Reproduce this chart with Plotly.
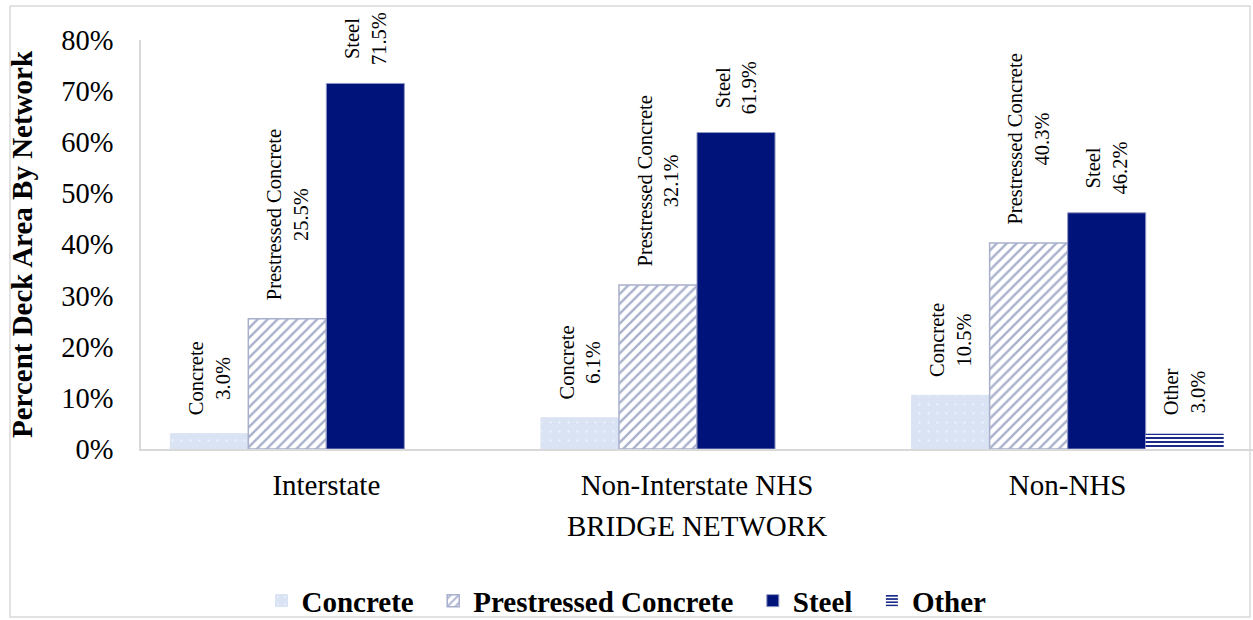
import plotly.graph_objects as go

# Share of bridge deck area by superstructure material, per network
networks = ["Interstate", "Non-Interstate NHS", "Non-NHS"]
concrete = [3.0, 6.1, 10.5]
prestressed = [25.5, 32.1, 40.3]
steel = [71.5, 61.9, 46.2]
other = [None, None, 3.0]

y_ticks = [0, 10, 20, 30, 40, 50, 60, 70, 80]
y_ticktext = [f"{v}%" for v in y_ticks]

SERIF = "Times New Roman, Liberation Serif, serif"
W, H = 1253, 620
ML, MR, MT, MB = 141, 0, 40, 171

# leading non-breaking spaces lift the rotated labels clear of the bar tops
LIFT = "&nbsp;" * 3
# extra room between legend entries
GAP = "&nbsp;" * 2


def labels(name, vals):
    return [f"{LIFT}{name}<br>{LIFT}{v:.1f}%" if v is not None else "" for v in vals]


def legend_name(name, last=False):
    return f"<b>{name}</b>" + ("" if last else GAP)


bar_common = dict(
    textposition="outside",
    textangle=-90,
    cliponaxis=False,
    constraintext="none",
    textfont=dict(family=SERIF, size=20.5, color="#000000"),
)

fig = go.Figure()
fig.add_trace(go.Bar(
    name=legend_name("Concrete"), x=networks, y=concrete,
    text=labels("Concrete", concrete),
    marker=dict(color="#dae3f3", line=dict(color="#dae3f3", width=1),
                pattern=dict(shape=".", fgcolor="#eef2fa", bgcolor="#dae3f3",
                             size=9, solidity=0.05, fillmode="replace")),
    **bar_common))
fig.add_trace(go.Bar(
    name=legend_name("Prestressed Concrete"), x=networks, y=prestressed,
    text=labels("Prestressed Concrete", prestressed),
    marker=dict(color="#ffffff", line=dict(color="#a8b0cc", width=1.5),
                pattern=dict(shape="/", fgcolor="#a8b0cc", bgcolor="#ffffff",
                             size=7, solidity=0.33, fillmode="replace")),
    **bar_common))
fig.add_trace(go.Bar(
    name=legend_name("Steel"), x=networks, y=steel, text=labels("Steel", steel),
    marker=dict(color="#00137a", line=dict(color="#8f97c2", width=1)),
    **bar_common))
fig.add_trace(go.Bar(
    name=legend_name("Other", last=True), x=networks, y=other,
    text=labels("Other", other),
    marker=dict(color="#ffffff", line=dict(width=0),
                pattern=dict(shape="-", fgcolor="#00137a", bgcolor="#ffffff",
                             size=4, solidity=0.45, fillmode="replace")),
    **bar_common))

pw = W - ML - MR
ph = H - MT - MB
# light frame around the whole chart
fig.add_shape(type="rect", xref="paper", yref="paper",
              x0=(10 - ML) / pw, x1=(1250 - ML) / pw,
              y0=(H - MB - 617) / ph, y1=(H - MB - 6) / ph,
              line=dict(color="#d9d9d9", width=1.5), fillcolor="rgba(0,0,0,0)",
              layer="below")

fig.update_layout(
    width=W, height=H,
    margin=dict(l=ML, r=MR, t=MT, b=MB),
    paper_bgcolor="#ffffff", plot_bgcolor="#ffffff",
    barmode="group", bargap=0.158, bargroupgap=0,
    font=dict(family=SERIF, color="#000000"),
    showlegend=True,
    legend=dict(orientation="h", xref="container", yref="container",
                x=0.5, xanchor="center", y=0.031, yanchor="middle",
                bgcolor="rgba(0,0,0,0)",
                font=dict(family=SERIF, size=29, color="#000000"),
                itemwidth=30, traceorder="normal"),
    xaxis=dict(
        showline=True, linecolor="#d9d9d9", linewidth=2,
        showgrid=False, ticks="", ticklabelstandoff=9,
        tickfont=dict(family=SERIF, size=29, color="#000000"),
        title=dict(text="BRIDGE NETWORK", standoff=16,
                   font=dict(family=SERIF, size=29, color="#000000")),
    ),
    yaxis=dict(
        range=[0, 80], tickvals=y_ticks, ticktext=y_ticktext,
        showline=True, linecolor="#d9d9d9", linewidth=1.5,
        showgrid=False, zeroline=False, ticks="", ticklabelstandoff=20,
        tickfont=dict(family=SERIF, size=28.5, color="#000000"),
        title=dict(text="<b>Percent Deck Area By Network</b>", standoff=20,
                   font=dict(family=SERIF, size=29, color="#000000")),
    ),
)

fig.write_html("out.html")
